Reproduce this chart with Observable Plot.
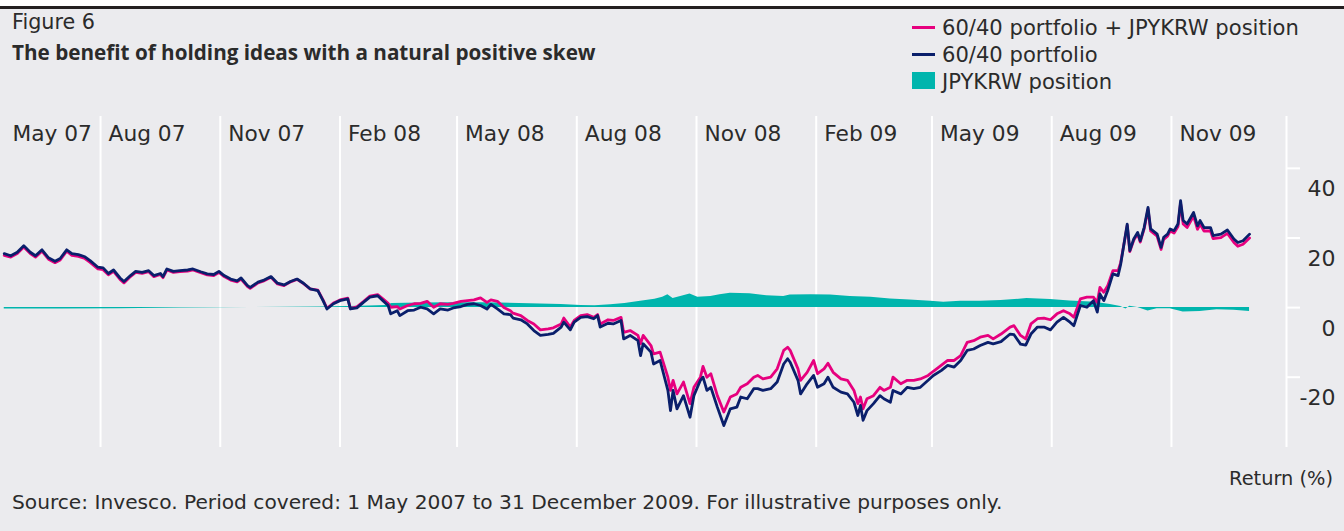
<!DOCTYPE html>
<html><head><meta charset="utf-8">
<script src="https://cdn.jsdelivr.net/npm/d3@7"></script>
<script src="https://cdn.jsdelivr.net/npm/@observablehq/plot@0.6"></script>
<style>
html,body{margin:0;padding:0;background:#fff;}
#page{position:relative;width:1344px;height:531px;background:#ebebee;overflow:hidden;font-family:"DejaVu Sans",sans-serif;color:#2b2b2b;}
#topbar{position:absolute;left:0;top:0;width:1344px;height:6px;background:#fff;border-bottom:3px solid #231f20;}
.t{position:absolute;white-space:nowrap;line-height:1;}
#chart{position:absolute;left:0;top:100px;}
.sw{position:absolute;}
</style></head><body>
<div id="page">
  <div id="topbar"></div>
  <div id="chart"></div>
</div>
<script>
// ---------- data (days since 1 May 2007, returns in %) ----------
const days = [
  18,23,28,33,38,42,47,52,57,61, 66,70,75,80,84,90,94,98,102,107,
  110,115,119,124,129,133,138,140,143,148, 153,159,163,169,174,179,183,187,192,197,
  200,205,207,213,217,223,228,233,238,243, 248,253,259,263,266,271,276,282,284,289,
  294,299,305,309,313,315,320,322,328,333, 338,343,348,353,359,363,369,374,379,384,
  389,392,397,402,407,409,415,420,425,430, 436,440,446,448,453,456,461,466,471,474,
  476,482,486,492,494,499,505,507,509,515, 517,522,528,530,532,535,540,545,548,553,
  555,558,561,566,571,576,581,584,589,594, 597,601,607,612,617,620,622,628,630,635,
  640,643,648,651,655,661,666,671,674,676, 678,681,686,691,694,699,701,707,712,717,
  722,728,732,738,743,748,753,758,763,768, 774,778,784,791,794,799,803,807,812,817,
  822,827,832,837,840,845,850,855,858,860, 863,866,870,874,876,881,883,886,889,891,
  894,897,899,904,907,909,912,914,917,920, 922,924,927,932,935,937,940,945,947,953,
  958,963,966,970,975
];
const portfolio = [
  15.5,14.9,15.9,17.8,15.9,14.9,16.6,14.3,13.3,14.1, 16.6,15.5,15.2,14.6,13.5,11.6,11.4,9.8,10.8,8.5,
  7.5,9.2,10.4,10.1,10.6,9.2,9.8,8.9,11.1,10.4, 10.6,10.8,11.1,10.3,9.7,9.5,10.4,9.2,8.2,7.7,
  8.5,6.3,5.8,7.3,7.8,8.9,7.0,6.5,7.5,8.2, 7.0,5.4,4.9,2.0,-0.4,1.1,2.0,2.5,-0.4,-0.1,
  1.5,3.0,3.4,2.0,0.6,-1.8,-0.9,-2.3,-0.9,-0.7, 0.1,-0.4,-1.8,-0.4,-0.7,-0.1,0.3,0.9,1.1,0.6,
  -0.4,0.9,-0.4,-1.8,-2.0,-3.0,-3.5,-4.7,-6.6,-8.0, -7.7,-7.4,-5.6,-4.2,-6.4,-4.2,-2.8,-2.6,-3.2,-2.3,
  -5.6,-4.5,-4.7,-3.7,-9.0,-8.0,-9.5,-13.8,-10.4,-12.8, -16.2,-15.2,-23.8,-29.6,-23.8,-29.1,-25.3,-31.5,-25.3,-20.9,
  -20.0,-23.8,-22.9,-28.6,-33.9,-29.1,-28.6,-25.7,-26.2,-23.3, -23.3,-23.8,-23.3,-21.4,-16.2,-14.7,-15.7,-20.9,-24.8,-21.9,
  -19.5,-22.9,-21.9,-20.0,-22.9,-24.3,-24.8,-27.2,-31.0,-28.1, -32.4,-29.6,-27.6,-25.3,-26.2,-27.2,-23.8,-24.8,-22.9,-23.3,
  -22.9,-20.9,-19.5,-18.1,-16.6,-17.1,-15.2,-12.3,-11.9,-10.9, -10.0,-10.4,-9.8,-7.6,-7.8,-10.5,-10.8,-7.6,-5.6,-5.6,
  -6.4,-4.2,-2.8,-4.2,-5.2,0.6,0.1,2.0,-1.3,3.9, 2.0,4.9,9.7,9.2,12.5,24.0,16.4,19.7,21.6,19.2,
  23.0,28.8,22.6,21.1,17.3,20.2,21.1,22.6,22.1,24.0, 30.7,25.0,24.0,27.3,23.5,25.0,23.0,23.0,20.7,21.1,
  22.3,19.7,18.7,19.2,21.1
];
const portfolioFx = [
  15.0,14.5,15.5,17.4,15.5,14.5,16.2,13.9,12.9,13.7, 16.2,15.0,14.7,14.1,13.0,11.1,10.9,9.4,10.4,8.1,
  7.1,8.9,10.1,9.8,10.3,8.9,9.5,8.6,10.8,10.1, 10.3,10.5,10.8,10.0,9.4,9.2,10.1,8.9,7.9,7.4,
  8.2,6.0,5.5,7.1,7.6,8.7,6.8,6.3,7.4,8.1, 6.9,5.4,5.0,2.2,-0.2,1.3,2.2,2.7,-0.2,0.2,
  1.7,3.3,3.7,2.5,1.2,0.1,0.3,-0.4,0.6,1.1, 1.2,1.8,0.1,1.1,0.9,1.2,1.8,2.0,2.2,2.8,
  1.5,2.2,1.8,0.0,-0.9,-1.6,-2.3,-3.7,-4.7,-6.4, -6.1,-5.8,-4.7,-3.0,-5.6,-3.7,-2.3,-2.0,-2.8,-2.0,
  -4.7,-3.5,-3.7,-2.8,-7.1,-6.6,-8.0,-10.4,-8.0,-10.9, -13.3,-12.8,-20.0,-23.8,-20.9,-24.8,-21.4,-27.6,-22.9,-20.0,
  -16.9,-20.0,-19.0,-25.3,-30.0,-25.7,-24.8,-22.9,-21.9,-20.0, -19.5,-20.5,-20.0,-17.6,-12.3,-11.4,-12.3,-17.6,-20.9,-18.6,
  -15.2,-19.0,-17.6,-16.0,-18.6,-20.5,-20.9,-23.8,-27.6,-25.7, -29.1,-26.2,-25.3,-22.9,-23.8,-22.9,-20.0,-21.9,-20.9,-20.9,
  -20.5,-19.5,-18.3,-16.6,-15.2,-15.2,-13.8,-10.0,-9.5,-8.5, -8.0,-9.0,-7.6,-5.6,-5.2,-8.0,-9.0,-4.7,-3.2,-3.0,
  -3.5,-1.8,-0.9,-1.8,-2.8,2.5,3.0,3.0,1.5,5.8, 4.4,6.3,10.6,10.6,13.0,23.6,16.1,19.3,21.2,18.8,
  22.6,28.3,22.0,20.5,16.7,19.6,20.5,22.0,21.4,23.3, 30.0,24.0,23.0,26.3,22.5,24.0,22.0,22.0,19.8,20.1,
  21.3,18.7,17.6,18.2,20.0
];
const fxDays = [
  18,61,107,153,207,261,292,311,316,338, 361,384,399,422,446,461,472,484,495,507,
  518,524,528,532,540,545,551,561,568,576, 591,604,617,622,638,653,668,684,699,714,
  730,740,753,768,784,804,822,837,853,860, 868,876,880,883,889,897,904,914,924,937,
  950,963,975
];
const jpykrw = [
  -0.4,-0.4,-0.3,-0.1,0.0,0.2,0.4,0.6,1.2,1.3, 1.4,1.4,1.3,1.1,0.9,0.6,0.5,0.8,1.2,1.8,
  2.4,3.0,3.7,2.6,3.4,3.9,3.0,3.2,3.7,4.1, 4.0,3.4,3.2,3.6,3.7,3.6,3.2,3.0,2.5,2.2,
  1.8,1.5,1.8,1.8,2.0,2.6,2.3,1.9,1.6,1.3, 0.9,0.3,-0.4,0.4,0.0,-1.0,-0.3,-0.3,-1.3,-1.1,
  -0.6,-0.8,-1.1
];
const tickDates = ["2007-05-01","2007-08-01","2007-11-01","2008-02-01","2008-05-01","2008-08-01","2008-11-01","2009-02-01","2009-05-01","2009-08-01","2009-11-01"];
const tickLabels = ["May 07","Aug 07","Nov 07","Feb 08","May 08","Aug 08","Nov 08","Feb 09","May 09","Aug 09","Nov 09"];
const yTicks = [-20, 0, 20, 40];
const seriesNames = ["60/40 portfolio + JPYKRW position", "60/40 portfolio", "JPYKRW position"];
const seriesColors = ["#e6007e", "#0a1f6b", "#00b5ad"];
const titleText = "The benefit of holding ideas with a natural positive skew";
const figText = "Figure 6";
const unitText = "Return (%)";
const sourceText = "Source: Invesco. Period covered: 1 May 2007 to 31 December 2009. For illustrative purposes only.";

// ---------- helpers ----------
const FONT = '"DejaVu Sans"';
const TITLE_FONT = '"Open Sans"';
const TXT = "#2b2b2b";
const ctx = document.createElement("canvas").getContext("2d");
function fitSize(text, target, weight, family) {
  ctx.font = `${weight || 400} 100px ${family || FONT}`;
  return 100 * target / ctx.measureText(text).width;
}
const page = document.getElementById("page");
function place(text, x, cy, size, opts = {}) {
  const el = document.createElement("div");
  el.className = "t";
  el.textContent = text;
  el.style.fontSize = size + "px";
  el.style.fontWeight = opts.weight || 400;
  if (opts.family) el.style.fontFamily = opts.family;
  el.style.top = (cy - (opts.k || 0.482) * size) + "px";
  if (opts.anchor === "end") el.style.right = (1344 - x) + "px"; else el.style.left = x + "px";
  page.appendChild(el);
  return el;
}
function box(x, y, w, h, color) {
  const el = document.createElement("div");
  el.className = "sw";
  Object.assign(el.style, {left: x + "px", top: y + "px", width: w + "px", height: h + "px", background: color});
  page.appendChild(el);
}

// ---------- header, legend, footer ----------
place(figText, 12, 22, fitSize(figText, 83));
place(titleText, 12, 53, fitSize(titleText, 584, 700, TITLE_FONT), {weight: 700, family: TITLE_FONT, k: 0.531});
const legSize = fitSize(seriesNames[0], 357);
const legY = [27, 54, 81];
seriesNames.forEach((n, i) => place(n, 942, legY[i], legSize));
box(912, 26, 23, 3, seriesColors[0]);
box(912, 53, 23, 3, seriesColors[1]);
box(912, 72, 23, 17, seriesColors[2]);
place(unitText, 1333, 478, fitSize(unitText, 104), {anchor: "end"});
place(sourceText, 12, 502, fitSize(sourceText, 991));

// ---------- chart ----------
const start = Date.UTC(2007, 4, 1);
const day = d => new Date(start + d * 864e5);
const rows = days.map((d, i) => ({date: day(d), portfolio: portfolio[i], withFx: portfolioFx[i]}));
const fxRows = fxDays.map((d, i) => ({date: day(d), value: jpykrw[i]}));
const x0 = day(18.2), x1 = day(1003.4);
const ticks = tickDates.map((s, i) => ({date: new Date(s + "T00:00:00Z"), label: tickLabels[i]}));
const axisSize = fitSize("Aug 07", 77);
const ySize = fitSize("40", 28);

const chart = Plot.plot({
  width: 1344, height: 360,
  marginLeft: 4, marginRight: 58, marginTop: 16, marginBottom: 13,
  x: {type: "utc", domain: [x0, x1], axis: null},
  y: {domain: [-40.2, 54.9], axis: null},
  style: {background: "transparent", overflow: "visible", fontFamily: FONT, color: TXT},
  marks: [
    Plot.ruleX(ticks.filter(d => d.date > x0), {x: "date", stroke: "#ffffff", strokeWidth: 2}),
    Plot.ruleX([x1], {stroke: "#ffffff", strokeWidth: 2}),
    Plot.axisY({anchor: "right", ticks: yTicks, tickSize: 13, tickFormat: () => "", stroke: "#ffffff", strokeWidth: 2}),
    Plot.text(yTicks, {y: d => d, text: d => String(d), frameAnchor: "right", textAnchor: "end", lineAnchor: "middle", dx: 49, dy: 21, fill: TXT, fontSize: ySize}),
    Plot.text(ticks, {x: d => (d.date < x0 ? x0 : d.date), text: "label", frameAnchor: "top", textAnchor: "start", lineAnchor: "middle", dx: 8, dy: 18, fill: TXT, fontSize: axisSize}),
    Plot.areaY(fxRows, {x: "date", y: "value", fill: seriesColors[2]}),
    Plot.lineY(rows, {x: "date", y: "withFx", stroke: seriesColors[0], strokeWidth: 2.8}),
    Plot.lineY(rows, {x: "date", y: "portfolio", stroke: seriesColors[1], strokeWidth: 2.8})
  ]
});
document.getElementById("chart").appendChild(chart);
</script>
</body></html>
